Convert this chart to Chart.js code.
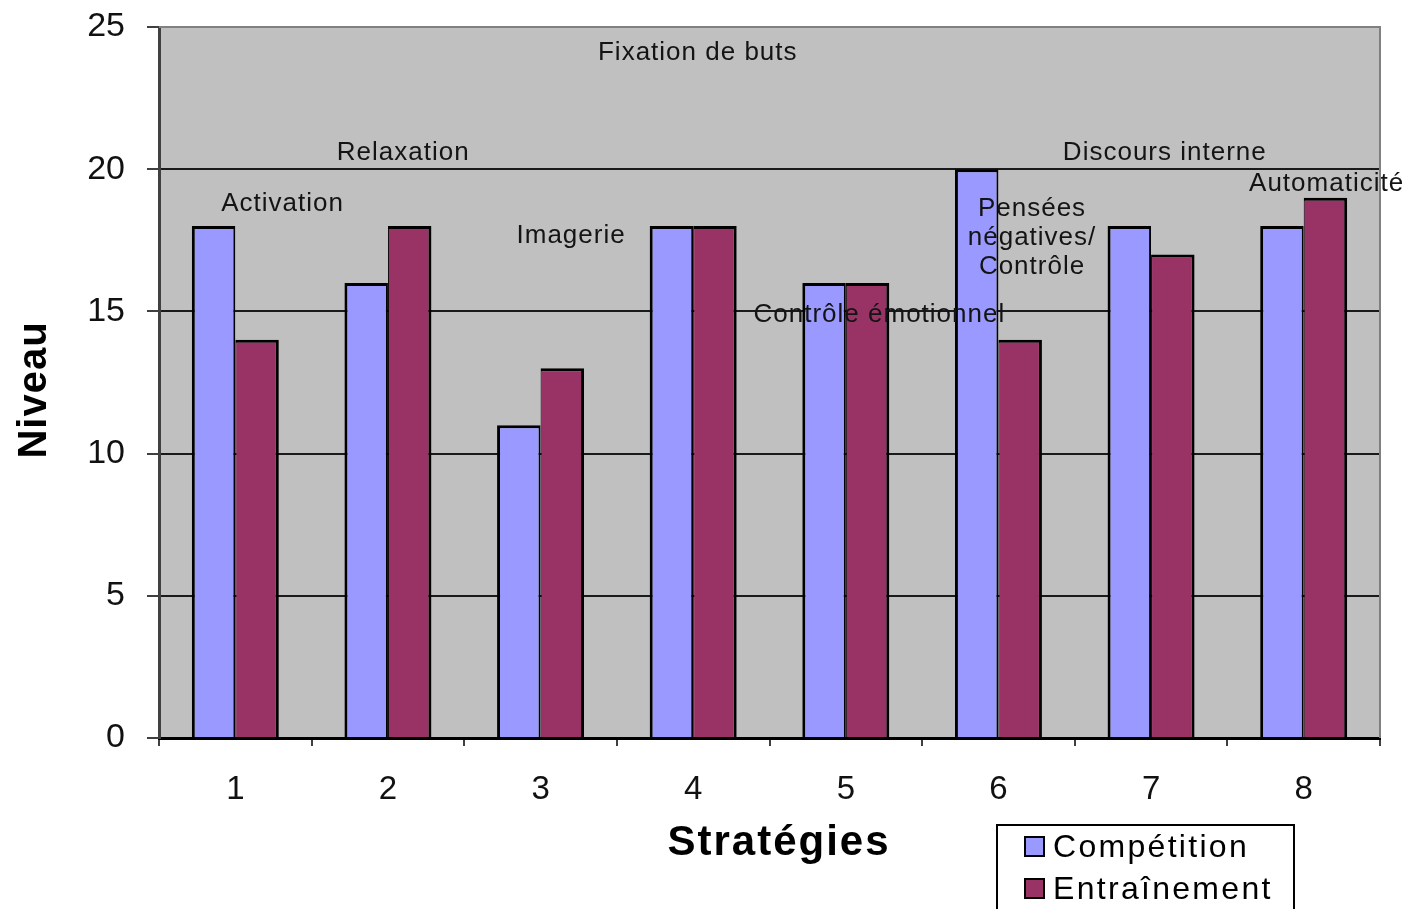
<!DOCTYPE html>
<html lang="fr">
<head>
<meta charset="utf-8">
<title>Niveau par stratégie</title>
<script src="https://cdn.jsdelivr.net/npm/chart.js@4.4.1/dist/chart.umd.min.js"></script>
<style>
  html, body { margin: 0; padding: 0; background: #ffffff; }
  #wrap { width: 1410px; height: 909px; }
</style>
</head>
<body>
<div id="wrap"><canvas id="chart" width="1410" height="909"></canvas></div>
<script>
// Categories and series values
const categories = ['1', '2', '3', '4', '5', '6', '7', '8'];
const competition = [18, 16, 11, 18, 16, 20, 18, 18];
const entrainement = [14, 18, 13, 18, 16, 14, 17, 19];
const seriesNames = ['Compétition', 'Entraînement'];

// Value axis
const yMin = 0;
const yMax = 25;
const yStep = 5;

// Strategy names written inside the plot
const strategyNames = [
  ['Fixation de buts'],
  ['Relaxation'],
  ['Discours interne'],
  ['Activation'],
  ['Automaticité'],
  ['Imagerie'],
  ['Pensées', 'négatives/', 'Contrôle'],
  ['Contrôle émotionnel']
];
// where each name sits: category index (fractional) and level
const namePlacement = [
  { i: 3.03, v: 24.09 },
  { i: 1.10, v: 20.57 },
  { i: 6.09, v: 20.57 },
  { i: 0.31, v: 18.78 },
  { i: 7.15, v: 19.48 },
  { i: 2.20, v: 17.65 },
  { i: 5.22, v: 18.60 },
  { i: 4.22, v: 14.87 }
];

const FONT = "'Liberation Sans', Arial, Helvetica, sans-serif";
const BLUE = '#9999FF';
const PLUM = '#993366';

const decor = {
  id: 'decor',
  beforeDraw(chart) {
    const { ctx, chartArea: a } = chart;
    ctx.save();
    ctx.fillStyle = '#ffffff';
    ctx.fillRect(0, 0, chart.width, chart.height);
    ctx.fillStyle = '#C0C0C0';
    ctx.fillRect(a.left, a.top, a.right - a.left, a.bottom - a.top);
    ctx.restore();
  },
  afterDatasetsDraw(chart) {
    const { ctx } = chart;
    const xs = chart.scales.x, ys = chart.scales.y;
    const step = xs.getPixelForValue(1) - xs.getPixelForValue(0);
    ctx.save();
    ctx.fillStyle = '#141414';
    ctx.font = '26px ' + FONT;
    ctx.textAlign = 'center';
    ctx.textBaseline = 'middle';
    if ('letterSpacing' in ctx) ctx.letterSpacing = '1px';
    strategyNames.forEach((lines, k) => {
      const p = namePlacement[k];
      const x = xs.getPixelForValue(0) + p.i * step;
      const y0 = ys.getPixelForValue(p.v);
      lines.forEach((t, j) => ctx.fillText(t, x, y0 + j * 29));
    });
    ctx.restore();
  },
  afterDraw(chart) {
    const { ctx, chartArea: a } = chart;
    ctx.save();
    // frame of the plot: grey top and right edges
    ctx.strokeStyle = '#808080';
    ctx.lineWidth = 2;
    ctx.beginPath();
    ctx.moveTo(a.left, a.top);
    ctx.lineTo(a.right, a.top);
    ctx.lineTo(a.right, a.bottom);
    ctx.stroke();

    // axis titles
    ctx.fillStyle = '#000000';
    ctx.font = 'bold 42px ' + FONT;
    ctx.textAlign = 'center';
    ctx.textBaseline = 'middle';
    if ('letterSpacing' in ctx) ctx.letterSpacing = '2px';
    ctx.fillText('Stratégies', 779, 843);
    ctx.font = 'bold 40px ' + FONT;
    if ('letterSpacing' in ctx) ctx.letterSpacing = '1px';
    ctx.save();
    ctx.translate(35, 390);
    ctx.rotate(-Math.PI / 2);
    ctx.fillText('Niveau', 0, 0);
    ctx.restore();

    // legend box
    ctx.lineWidth = 2;
    ctx.strokeStyle = '#000000';
    ctx.fillStyle = '#ffffff';
    ctx.fillRect(997, 825, 297, 120);
    ctx.strokeRect(997, 825, 297, 120);
    ctx.font = '32px ' + FONT;
    ctx.textAlign = 'left';
    if ('letterSpacing' in ctx) ctx.letterSpacing = '2.3px';
    chart.data.datasets.forEach((ds, i) => {
      const cy = 847 + i * 42;
      ctx.fillStyle = ds.backgroundColor;
      ctx.fillRect(1025, cy - 10, 19, 19);
      ctx.strokeRect(1025, cy - 10, 19, 19);
      ctx.fillStyle = '#000000';
      ctx.fillText(ds.label, 1053, cy + 1);
    });
    ctx.restore();
  }
};

new Chart(document.getElementById('chart'), {
  type: 'bar',
  data: {
    labels: categories,
    datasets: [
      {
        label: seriesNames[0],
        data: competition,
        backgroundColor: BLUE,
        borderColor: '#000000',
        borderWidth: { top: 3, left: 3, right: 2, bottom: 0 },
        borderSkipped: 'start'
      },
      {
        label: seriesNames[1],
        data: entrainement,
        backgroundColor: PLUM,
        borderColor: '#000000',
        borderWidth: { top: 3, left: 1, right: 3, bottom: 0 },
        borderSkipped: 'start'
      }
    ]
  },
  options: {
    responsive: false,
    animation: false,
    layout: { padding: { left: 0, top: 27, right: 30, bottom: 0 } },
    plugins: {
      legend: { display: false },
      tooltip: { enabled: false }
    },
    datasets: {
      bar: { categoryPercentage: 0.57, barPercentage: 1.0 }
    },
    scales: {
      x: {
        afterFit(scale) {
          scale.height = 171;
          scale.paddingLeft = 0;
          scale.paddingRight = 0;
        },
        grid: {
          offset: true,
          drawOnChartArea: false,
          drawTicks: true,
          tickLength: 8,
          tickColor: '#404040',
          lineWidth: 2
        },
        border: { display: true, color: '#000000', width: 3 },
        ticks: {
          color: '#111111',
          font: { family: FONT, size: 33 },
          padding: 24
        }
      },
      y: {
        min: yMin,
        max: yMax,
        afterFit(scale) {
          scale.width = 159;
          scale.paddingTop = 0;
          scale.paddingBottom = 0;
        },
        grid: {
          color: (c) => (c.tick && c.tick.value === yMax ? '#808080' : '#1a1a1a'),
          lineWidth: 2,
          tickLength: 12,
          tickColor: '#404040'
        },
        border: { display: true, color: '#404040', width: 3 },
        ticks: {
          stepSize: yStep,
          color: '#111111',
          font: { family: FONT, size: 34 },
          padding: 22
        }
      }
    }
  },
  plugins: [decor]
});
</script>
</body>
</html>
